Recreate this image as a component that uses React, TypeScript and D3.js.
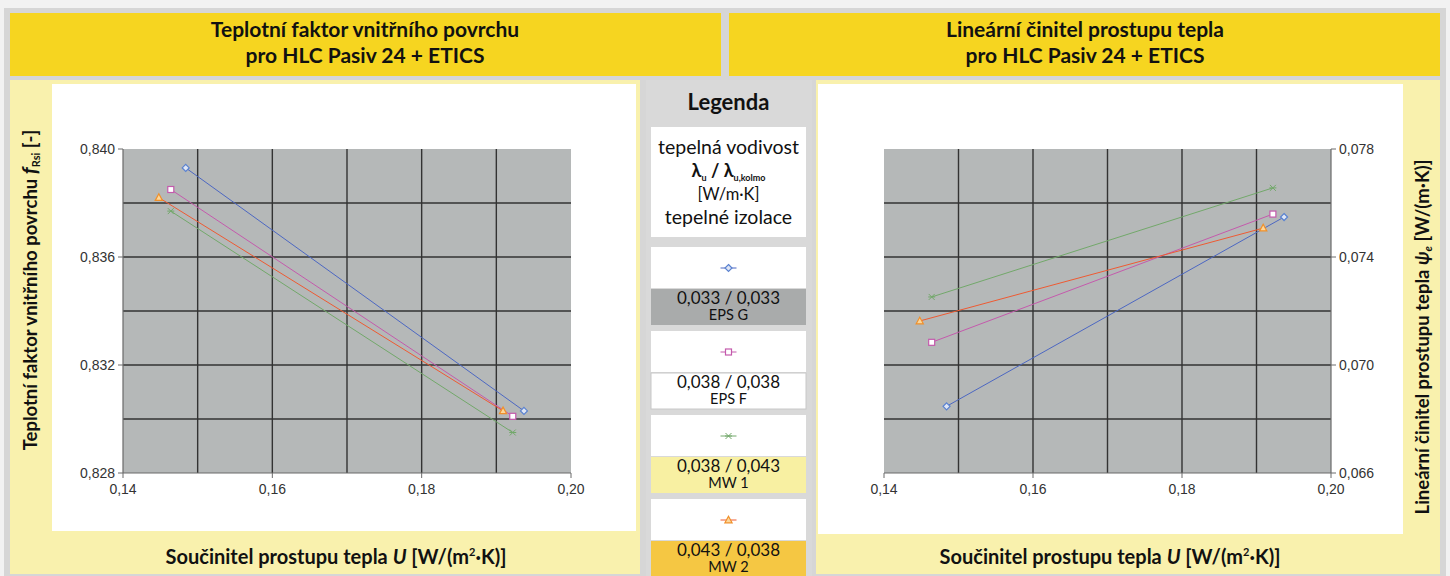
import * as d3 from 'd3';

const W = 1450;
const H = 576;

// series (insulation types)
const seriesNames = ['EPS G', 'EPS F', 'MW 1', 'MW 2'];
const lambdaLabels = ['0,033 / 0,033', '0,038 / 0,038', '0,038 / 0,043', '0,043 / 0,038'];
const seriesColors = ['#4c67c2', '#c45aac', '#72a86a', '#ee5a32'];
const markerColors = ['#5a82d0', '#c45aac', '#72a86a', '#f0902a'];
const markerTypes = ['diamond', 'square', 'star', 'triangle'];
const legendFills = ['#a9abab', '#ffffff', '#f8f0a2', '#f5c743'];

// U values [W/(m2K)] for each series (start, end)
const uEPSG = [0.1484, 0.1937];
const uEPSF = [0.1464, 0.1922];
const uMW1 = [0.1464, 0.1922];
const uMW2 = [0.1448, 0.1909];

// temperature factor fRsi
const fEPSG = [0.8393, 0.8303];
const fEPSF = [0.8385, 0.8301];
const fMW1 = [0.8377, 0.8295];
const fMW2 = [0.8382, 0.8303];

// linear thermal transmittance psi_e
const psiEPSG = [0.06847, 0.07548];
const psiEPSF = [0.07084, 0.07559];
const psiMW1 = [0.07252, 0.07656];
const psiMW2 = [0.07163, 0.07507];

const xTicks = [0.14, 0.16, 0.18, 0.2];
const fTicks = [0.828, 0.832, 0.836, 0.84];
const psiTicks = [0.066, 0.07, 0.074, 0.078];

const uSeries = [uEPSG, uEPSF, uMW1, uMW2];
const fSeries = [fEPSG, fEPSF, fMW1, fMW2];
const psiSeries = [psiEPSG, psiEPSF, psiMW1, psiMW2];

const czLocale = d3.formatLocale({ decimal: ',', thousands: ' ', grouping: [3], currency: ['', ''] });
const fmt2 = czLocale.format('.2f');
const fmt3 = czLocale.format('.3f');

const CAL = 'Lato, "Open Sans", sans-serif';
const ARIAL = '"Liberation Sans", Arial, sans-serif';

const Marker = ({ type, x, y, color }: { type: string; x: number; y: number; color: string }) => {
  if (type === 'diamond') {
    return <path d={`M${x},${y - 3.5}L${x + 3.5},${y}L${x},${y + 3.5}L${x - 3.5},${y}Z`} fill="#dfe6f5" stroke={color} strokeWidth={1.2} />;
  }
  if (type === 'square') {
    return <rect x={x - 3} y={y - 3} width={6} height={6} fill="#fff" stroke={color} strokeWidth={1.2} />;
  }
  if (type === 'triangle') {
    return <path d={`M${x},${y - 3.8}L${x + 3.6},${y + 2.8}L${x - 3.6},${y + 2.8}Z`} fill="#fcd79a" stroke={color} strokeWidth={1.2} />;
  }
  return (
    <g stroke={color} strokeWidth={1}>
      <line x1={x - 3} y1={y - 3} x2={x + 3} y2={y + 3} />
      <line x1={x - 3} y1={y + 3} x2={x + 3} y2={y - 3} />
      <line x1={x - 3.5} y1={y} x2={x + 3.5} y2={y} />
    </g>
  );
};

interface ChartProps {
  left: number;
  right: number;
  top: number;
  bottom: number;
  yDomain: [number, number];
  yTicks: number[];
  ySeries: number[][];
  axisRight?: boolean;
}

const Chart = ({ left, right, top, bottom, yDomain, yTicks, ySeries, axisRight }: ChartProps) => {
  const x = d3.scaleLinear().domain([0.14, 0.2]).range([left, right]);
  const y = d3.scaleLinear().domain(yDomain).range([bottom, top]);
  const xGrid = x.ticks(6).filter((t) => x(t) > left + 1 && x(t) < right - 1);
  const yGrid = y.ticks(6).filter((t) => y(t) > top + 1 && y(t) < bottom - 1);
  const line = d3.line<[number, number]>().x((d) => x(d[0])).y((d) => y(d[1]));
  const axisX = axisRight ? right : left;
  return (
    <g>
      <rect x={left} y={top} width={right - left} height={bottom - top} fill="#b5b8b8" />
      {xGrid.map((t) => (
        <line key={'gx' + t} x1={x(t)} x2={x(t)} y1={top} y2={bottom} stroke="#333" strokeWidth={1.4} />
      ))}
      {yGrid.map((t) => (
        <line key={'gy' + t} x1={left} x2={right} y1={y(t)} y2={y(t)} stroke="#333" strokeWidth={1.4} />
      ))}
      {/* axes */}
      <line x1={left} x2={right} y1={bottom} y2={bottom} stroke="#6a6a6a" strokeWidth={1.2} />
      <line x1={axisX} x2={axisX} y1={top} y2={bottom} stroke="#6a6a6a" strokeWidth={1.2} />
      {xTicks.map((t) => (
        <g key={'xt' + t}>
          <line x1={x(t)} x2={x(t)} y1={bottom} y2={bottom + 5} stroke="#6a6a6a" />
          <text x={x(t)} y={bottom + 21} textAnchor="middle" fontFamily={ARIAL} fontSize={14} fill="#333">
            {fmt2(t)}
          </text>
        </g>
      ))}
      {yTicks.map((t) => (
        <g key={'yt' + t}>
          <line x1={axisX} x2={axisRight ? axisX + 5 : axisX - 5} y1={y(t)} y2={y(t)} stroke="#6a6a6a" />
          <text
            x={axisRight ? axisX + 8 : axisX - 8}
            y={y(t) + 5}
            textAnchor={axisRight ? 'start' : 'end'}
            fontFamily={ARIAL}
            fontSize={14}
            fill="#333"
          >
            {fmt3(t)}
          </text>
        </g>
      ))}
      {ySeries.map((ys, i) => {
        const pts = ys.map((v, j) => [uSeries[i][j], v] as [number, number]);
        return (
          <g key={'s' + i}>
            <path d={line(pts) || ''} fill="none" stroke={seriesColors[i]} strokeWidth={1} />
            {pts.map((p, j) => (
              <Marker key={j} type={markerTypes[i]} x={x(p[0])} y={y(p[1])} color={markerColors[i]} />
            ))}
          </g>
        );
      })}
    </g>
  );
};

const Title = ({ cx, lines }: { cx: number; lines: string[] }) => (
  <g>
    {lines.map((l, i) => (
      <text
        key={i}
        x={cx}
        y={37 + i * 26}
        textAnchor="middle"
        fontFamily={CAL}
        fontWeight={700}
        fontSize={21}
        fill="#111"
      >
        {l}
      </text>
    ))}
  </g>
);

const XLabel = ({ cx }: { cx: number }) => (
  <text x={cx} y={564} textAnchor="middle" fontFamily={CAL} fontWeight={700} fontSize={20} fill="#111">
    Součinitel prostupu tepla <tspan fontStyle="italic">U</tspan> [W/(m
    <tspan fontSize={11} dy={-8}>2</tspan>
    <tspan dy={8}>·K)]</tspan>
  </text>
);

const Legend = () => {
  const x0 = 651;
  const w = 155;
  const cx = x0 + w / 2;
  return (
    <g fontFamily={CAL} textAnchor="middle" fill="#111">
      <rect x={646} y={80} width={166} height={496} fill="#d9d9d9" />
      <text x={cx} y={110} fontSize={22} fontWeight={700}>
        Legenda
      </text>
      <rect x={x0} y={127} width={w} height={110} fill="#fff" />
      <text x={cx} y={154} fontSize={19.5}>tepelná vodivost</text>
      <text x={cx} y={177} fontSize={18} fontWeight={700}>
        λ<tspan fontSize={9} dy={4}>u</tspan>
        <tspan dy={-4}> / λ</tspan>
        <tspan fontSize={9} dy={4}>u,kolmo</tspan>
      </text>
      <text x={cx} y={200} fontSize={16.5}>[W/m·K]</text>
      <text x={cx} y={224} fontSize={19.5}>tepelné izolace</text>
      {seriesNames.map((name, i) => {
        const y0 = 247 + i * 84;
        const my = y0 + 21;
        return (
          <g key={name}>
            <rect x={x0} y={y0} width={w} height={41} fill="#fff" />
            <line x1={cx - 8} x2={cx + 8} y1={my} y2={my} stroke={seriesColors[i]} strokeWidth={1} />
            <Marker type={markerTypes[i]} x={cx} y={my} color={markerColors[i]} />
            <rect
              x={x0}
              y={y0 + 42}
              width={w}
              height={36}
              fill={legendFills[i]}
              stroke={i === 1 ? '#c8c8c8' : 'none'}
            />
            <text x={cx} y={y0 + 57} fontSize={17}>{lambdaLabels[i]}</text>
            <text x={cx} y={y0 + 73} fontSize={14.5}>{name}</text>
          </g>
        );
      })}
    </g>
  );
};

const App = () => {
  return (
    <div style={{ position: 'absolute', left: 0, top: 0 }}>
      <svg width={W} height={H} style={{ display: 'block' }}>
        <rect width={W} height={H} fill="#f2f2f2" />
        <rect x={4} y={8} width={W - 8} height={H - 8} fill="#d6d6d6" />
        {/* title bars */}
        <rect x={10} y={13} width={711} height={63} fill="#f6d520" />
        <rect x={729} y={13} width={711} height={63} fill="#f6d520" />
        <Title cx={365} lines={['Teplotní faktor vnitřního povrchu', 'pro HLC Pasiv 24 + ETICS']} />
        <Title cx={1085} lines={['Lineární činitel prostupu tepla', 'pro HLC Pasiv 24 + ETICS']} />

        {/* left panel */}
        <rect x={10} y={80} width={630} height={494} fill="#f9f1ad" />
        <rect x={52} y={84} width={584} height={447} fill="#fff" />
        <Chart left={123} right={571} top={149} bottom={473} yDomain={[0.828, 0.84]} yTicks={fTicks} ySeries={fSeries} />
        <text
          transform="translate(37,290) rotate(-90)"
          textAnchor="middle"
          fontFamily={CAL}
          fontWeight={700}
          fontSize={18.5}
          fill="#111"
        >
          Teplotní faktor vnitřního povrchu <tspan fontStyle="italic" fontSize={21}>f</tspan>
          <tspan fontSize={11} dy={3}>Rsi</tspan>
          <tspan dy={-3}> [-]</tspan>
        </text>
        <XLabel cx={336} />

        <Legend />

        {/* right panel */}
        <rect x={816} y={80} width={624} height={494} fill="#f9f1ad" />
        <rect x={818} y={84} width={585} height={450} fill="#fff" />
        <Chart
          left={884}
          right={1331}
          top={149}
          bottom={473}
          yDomain={[0.066, 0.078]}
          yTicks={psiTicks}
          ySeries={psiSeries}
          axisRight
        />
        <text
          transform="translate(1429,337) rotate(-90)"
          textAnchor="middle"
          fontFamily={CAL}
          fontWeight={700}
          fontSize={18.5}
          fill="#111"
        >
          Lineární činitel prostupu tepla <tspan fontStyle="italic">ψ</tspan>
          <tspan fontSize={11} dy={3} fontStyle="italic">e</tspan>
          <tspan dy={-3}>  [W/(m·K)]</tspan>
        </text>
        <XLabel cx={1110} />
      </svg>
    </div>
  );
};

export default App;
